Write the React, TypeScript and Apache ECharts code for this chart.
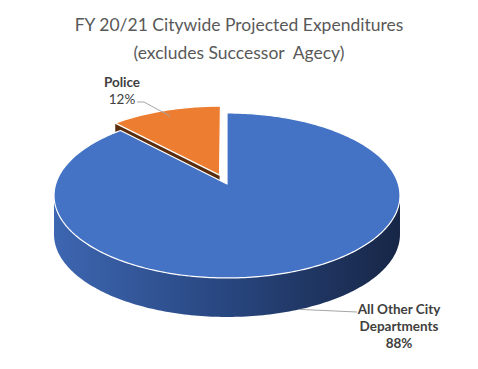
import React, { useEffect, useRef } from "react";
import * as echarts from "echarts";

// ---- data ----
const titleText = "FY 20/21 Citywide Projected Expenditures\n(excludes Successor  Agecy)";
const categories = ["All Other City Departments", "Police"];
const labelLines = [["All Other City", "Departments"], ["Police"]];
const values = [88, 12];
const explode = [0, 0.12];

// ---- styles ----
const topColors = ["#4472C4", "#ED7D31"];
const radialColors = ["#1f3566", "#5a2d0e"];
const sideStops = [
  [
    { offset: 0, color: "#3d66b1" },
    { offset: 0.5, color: "#28467f" },
    { offset: 1, color: "#172646" },
  ],
  [
    { offset: 0, color: "#b35a1f" },
    { offset: 1, color: "#6a3310" },
  ],
];

// projection of the tilted disc (perspective)
const AX = 227;
const AY = 184;
const A = 171.3;
const B = 80.9;
const K = 0.139;
const DEPTH = 39;

// label layout
const labelLayout = [
  { x: 399, y: 309, lh: 17, bolds: [true, true, true], line: [[357, 312]], r: 1, bottom: true },
  { x: 122, y: 82, lh: 17, bolds: [true, false], line: [[137, 102], [144, 102]], r: 0.9, bottom: false },
];

function proj(u: number, v: number): number[] {
  const d = 1 + K * v;
  return [AX + (A * u) / d, AY - (B * v) / d];
}
function pt(phiDeg: number, r: number, off: number[]): number[] {
  const p = (phiDeg * Math.PI) / 180;
  return proj(off[0] + r * Math.sin(p), off[1] + r * Math.cos(p));
}
function down(p: number[]): number[] {
  return [p[0], p[1] + DEPTH];
}
function arc(s: number, e: number, off: number[]): number[][] {
  const pts: number[][] = [];
  const n = Math.max(2, Math.ceil(e - s));
  for (let i = 0; i <= n; i++) pts.push(pt(s + ((e - s) * i) / n, 1, off));
  return pts;
}

const total = values.reduce((a, b) => a + b, 0);
const PHI_EDGE = (Math.acos(-K) * 180) / Math.PI; // silhouette angle

export default function App() {
  const ref = useRef<HTMLDivElement>(null);
  useEffect(() => {
    document.body.style.margin = "0";
    if (!ref.current) return;
    const chart = echarts.init(ref.current, undefined, { renderer: "svg" });
    // painter's order: back slices first
    const order = [1, 0];
    const option: any = {
      animation: false,
      backgroundColor: "#ffffff",
      title: {
        text: titleText,
        left: "center",
        top: 5,
        textStyle: {
          fontFamily: "Lato",
          fontSize: 17.5,
          fontWeight: "normal",
          color: "#595959",
          lineHeight: 28,
        },
      },
      series: [
        {
          type: "custom",
          coordinateSystem: "none",
          data: order.map((i) => ({ name: categories[i], value: [values[i], i] })),
          renderItem: (params: any, api: any) => {
            const idx = api.value(1);
            const val = api.value(0);
            let before = 0;
            for (let j = 0; j < idx; j++) before += values[j];
            const s = (before / total) * 360;
            const e = s + (val / total) * 360;
            const mid = (s + e) / 2;
            const m = (mid * Math.PI) / 180;
            const off = [explode[idx] * Math.sin(m), explode[idx] * Math.cos(m)];
            const apex = proj(off[0], off[1]);
            const children: any[] = [];
            // radial faces
            const sr = (s * Math.PI) / 180;
            const er = (e * Math.PI) / 180;
            if (Math.sin(sr) < -0.01) {
              const p = pt(s, 1, off);
              children.push({
                type: "polygon",
                shape: { points: [apex, p, down(p), down(apex)] },
                style: { fill: radialColors[idx] },
              });
            }
            if (Math.sin(er) > 0.01) {
              const p = pt(e, 1, off);
              children.push({
                type: "polygon",
                shape: { points: [apex, p, down(p), down(apex)] },
                style: { fill: radialColors[idx] },
              });
            }
            // outer side face
            const ss = Math.max(s, PHI_EDGE);
            const se = Math.min(e, 360 - PHI_EDGE);
            if (se > ss) {
              const topPts = arc(ss, se, off);
              const botPts = topPts.map(down).reverse();
              children.push({
                type: "polygon",
                shape: { points: topPts.concat(botPts) },
                style: {
                  fill: new echarts.graphic.LinearGradient(0, 0, 1, 0, sideStops[idx]),
                },
              });
            }
            // top face
            children.push({
              type: "polygon",
              shape: { points: [apex].concat(arc(s, e, off)) },
              style: { fill: topColors[idx], stroke: "#ffffff", lineWidth: 1.2, lineJoin: "round" },
            });
            // label
            const L = labelLayout[idx];
            let anchor = pt(mid, L.r, off);
            if (L.bottom) anchor = down(anchor);
            children.push({
              type: "polyline",
              shape: { points: [anchor].concat(L.line.slice().reverse()) },
              style: { stroke: "#a6a6a6", lineWidth: 1, fill: null },
            });
            const pct = Math.round((val / total) * 100) + "%";
            const lines = labelLines[idx].concat([pct]);
            lines.forEach((t, k) => {
              children.push({
                type: "text",
                style: {
                  text: t,
                  x: L.x,
                  y: L.y + k * L.lh,
                  align: "center",
                  verticalAlign: "middle",
                  fill: "#404040",
                  fontFamily: "Lato",
                  fontSize: 13.5,
                  fontWeight: L.bolds[k] ? "bold" : "normal",
                },
              });
            });
            return { type: "group", children };
          },
        },
      ],
    };
    chart.setOption(option);
    return () => chart.dispose();
  }, []);
  return <div ref={ref} style={{ width: 478, height: 369 }} />;
}
